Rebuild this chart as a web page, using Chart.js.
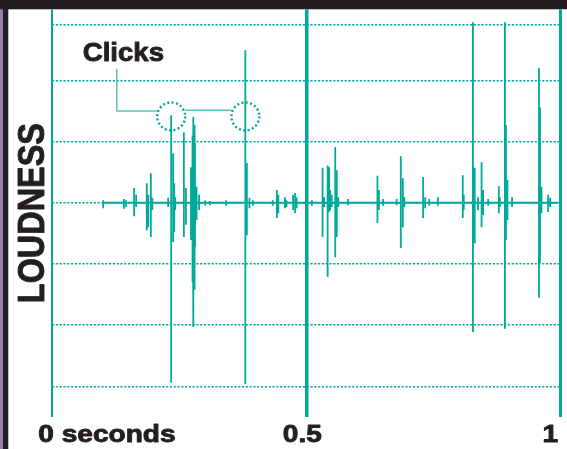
<!DOCTYPE html>
<html><head><meta charset="utf-8">
<script src="https://cdn.jsdelivr.net/npm/chart.js@4"></script>
<style>html,body{margin:0;padding:0;background:#fff;overflow:hidden}canvas{display:block}</style>
</head><body>
<canvas id="c" width="567" height="449"></canvas>
<script>
// ---- data (time in seconds, loudness in grid units) ----
const spikeTimes = [0.100,0.141,0.145,0.161,0.165,0.186,0.189,0.194,0.197,0.228,
  0.234,0.238,0.240,0.242,0.259,0.263,0.273,0.276,0.277,0.278,0.280,0.281,0.284,0.289,
  0.301,0.310,0.342,0.380,0.383,0.388,0.395,0.434,0.442,0.445,0.458,0.461,0.474,0.478,0.481,
  0.511,0.532,0.535,0.542,0.545,0.547,0.550,0.557,0.560,0.563,0.582,
  0.640,0.643,0.651,0.678,0.686,0.690,0.693,0.730,0.734,0.742,0.759,
  0.808,0.810,0.828,0.830,0.831,0.832,0.838,0.845,0.848,0.858,0.879,0.881,
  0.891,0.893,0.896,0.905,0.958,0.960,0.963,0.976,0.980];
const spikeTops = [0.04,0.06,0.04,0.24,0.13,0.32,0.13,0.48,0.08,0.08,
  1.43,0.81,0.32,0.09,1.15,0.24,0.58,1.10,1.27,1.40,1.27,0.97,0.26,0.13,
  0.04,0.03,0.04,2.49,0.65,0.08,0.04,0.04,0.21,0.13,0.09,0.04,0.13,0.16,0.09,
  0.04,0.57,0.09,0.61,0.58,0.21,0.13,0.91,0.53,0.09,0.06,
  0.44,0.21,0.06,0.06,0.76,0.40,0.09,0.42,0.09,0.06,0.09,
  0.45,0.13,2.95,0.57,0.57,0.21,0.09,0.66,0.21,0.06,0.27,0.09,
  2.95,1.27,0.37,0.09,2.20,1.56,0.26,0.13,0.08];
const spikeBottoms = [-0.09,-0.10,-0.07,-0.22,-0.07,-0.45,-0.40,-0.56,-0.12,-0.07,
  -2.94,-0.64,-0.48,-0.12,-0.56,-0.36,-0.61,-1.29,-1.59,-2.03,-1.42,-0.72,-0.28,-0.12,
  -0.05,-0.04,-0.05,-2.96,-0.53,-0.09,-0.05,-0.05,-0.25,-0.17,-0.09,-0.07,-0.12,-0.17,-0.09,
  -0.05,-0.56,-0.07,-1.21,-0.15,-0.12,-0.07,-0.89,-0.56,-0.07,-0.04,
  -0.33,-0.12,-0.05,-0.04,-0.74,-0.40,-0.07,-0.25,-0.09,-0.05,-0.05,
  -0.25,-0.12,-2.11,-0.66,-0.66,-0.23,-0.12,-0.40,-0.20,-0.05,-0.17,-0.07,
  -2.06,-0.61,-0.28,-0.07,-1.55,-0.98,-0.17,-0.15,-0.07];
const traceStart = 0.100, traceEnd = 0.995;
const xTicks = [0, 0.5, 1];
const xTickLabels = ['0 seconds', '0.5', '1'];
const gridLevels = [-3, -2, -1, 0, 1, 2, 2.9];
const yTitle = 'LOUDNESS';
const annotationText = 'Clicks';
const clickTimes = [0.234, 0.380];
const clickLevel = 1.41;
const labelAt = [0.060, 2.32];
const leaderX = 0.127, leaderTop = 2.19, leaderLevel = 1.50, bridgeLevel = 1.51;

// ---- build trace ----
const trace = [{x: traceStart, y: 0}];
spikeTimes.forEach((t, i) => {
  trace.push({x: t, y: 0}, {x: t, y: spikeTops[i]}, {x: t, y: spikeBottoms[i]}, {x: t, y: 0});
});
trace.push({x: traceEnd, y: 0});

const TEAL = '#00a99a', LIGHT = '#5cc3b7', INK = '#231f20';

const framePlugin = {
  id: 'frame',
  beforeDraw(chart) {
    const c = chart.ctx;
    c.save();
    c.fillStyle = '#fff'; c.fillRect(0, 0, chart.width, chart.height);
    c.fillStyle = '#9d7bb8'; c.fillRect(0, 0, 3, chart.height);
    c.fillStyle = INK; c.fillRect(3, 0, 5.3, chart.height);
    c.fillRect(0, 0, chart.width, 9.3);
    c.restore();
  }
};

function heavyText(c, txt, x, y, maxW) {
  c.lineWidth = 0.9; c.strokeStyle = INK; c.lineJoin = 'round';
  if (maxW) { c.fillText(txt, x, y, maxW); c.strokeText(txt, x, y, maxW); }
  else { c.fillText(txt, x, y); c.strokeText(txt, x, y); }
}

const decoPlugin = {
  id: 'deco',
  afterDatasetsDraw(chart) {
    const c = chart.ctx, xs = chart.scales.x, ys = chart.scales.y;
    c.save();
    // leader lines
    c.strokeStyle = LIGHT; c.lineWidth = 1.5; c.setLineDash([]);
    const r = 14;
    const cx = clickTimes.map(t => xs.getPixelForValue(t));
    const cy = ys.getPixelForValue(clickLevel);
    c.beginPath();
    c.moveTo(xs.getPixelForValue(leaderX), ys.getPixelForValue(leaderTop));
    c.lineTo(xs.getPixelForValue(leaderX), ys.getPixelForValue(leaderLevel));
    c.lineTo(cx[0] - r, ys.getPixelForValue(leaderLevel));
    c.moveTo(cx[0] + r, ys.getPixelForValue(bridgeLevel));
    c.lineTo(cx[1] - r, ys.getPixelForValue(bridgeLevel));
    c.stroke();
    // dotted circles
    c.strokeStyle = TEAL; c.lineWidth = 2.4; c.setLineDash([2, 2.4]);
    cx.forEach(x => { c.beginPath(); c.arc(x, cy, r, 0, Math.PI * 2); c.stroke(); });
    c.setLineDash([]);
    // Clicks label
    c.fillStyle = INK;
    c.font = 'bold 26px "Liberation Sans", Arial, sans-serif';
    c.textBaseline = 'alphabetic'; c.textAlign = 'left';
    c.save();
    c.translate(xs.getPixelForValue(labelAt[0]), ys.getPixelForValue(labelAt[1]));
    c.scale(1.06, 1);
    heavyText(c, annotationText, 0, 0);
    c.restore();
    // y title
    c.save();
    c.font = 'bold 36px "Liberation Sans", Arial, sans-serif';
    c.translate(44, (chart.chartArea.top + chart.chartArea.bottom) / 2);
    c.rotate(-Math.PI / 2);
    c.textAlign = 'center';
    heavyText(c, yTitle, 0, 0, 180);
    c.restore();
    // x tick labels
    c.font = 'bold 24px "Liberation Sans", Arial, sans-serif';
    const base = 442.3;
    xTicks.forEach((v, i) => {
      const px = xs.getPixelForValue(v);
      const w = c.measureText(xTickLabels[i]).width * 1.17;
      let left;
      if (i === 0) left = px - 14;
      else if (i === xTicks.length - 1) left = px - 10 - w / 2;
      else left = px - 4 - w / 2;
      c.save();
      c.translate(left, base);
      c.scale(1.17, 1);
      c.textAlign = 'left';
      heavyText(c, xTickLabels[i], 0, 0);
      c.restore();
    });
    c.restore();
  }
};

new Chart(document.getElementById('c'), {
  type: 'line',
  data: {
    datasets: [{
      data: trace,
      borderColor: TEAL,
      borderWidth: 1.8,
      pointRadius: 0,
      tension: 0,
      borderJoinStyle: 'bevel',
      fill: false
    }]
  },
  options: {
    responsive: false,
    animation: false,
    devicePixelRatio: 1,
    layout: { padding: { left: 52.3, right: 6.7, top: 9.3, bottom: 32 } },
    plugins: { legend: { display: false }, tooltip: { enabled: false } },
    scales: {
      x: {
        type: 'linear', min: 0, max: 1,
        afterBuildTicks: s => { s.ticks = xTicks.map(v => ({value: v})); },
        ticks: { display: false },
        border: { display: false },
        grid: { color: TEAL, lineWidth: ctx => [2, 3.5, 3][ctx.index] || 2, drawTicks: false }
      },
      y: {
        type: 'linear', min: -3.5, max: 3.16,
        afterBuildTicks: s => { s.ticks = gridLevels.map(v => ({value: v})); },
        ticks: { display: false },
        border: { display: false, dash: [2.2, 1.6] },
        grid: { color: TEAL, lineWidth: 1.5, drawTicks: false }
      }
    }
  },
  plugins: [framePlugin, decoPlugin]
});
</script>
</body></html>
